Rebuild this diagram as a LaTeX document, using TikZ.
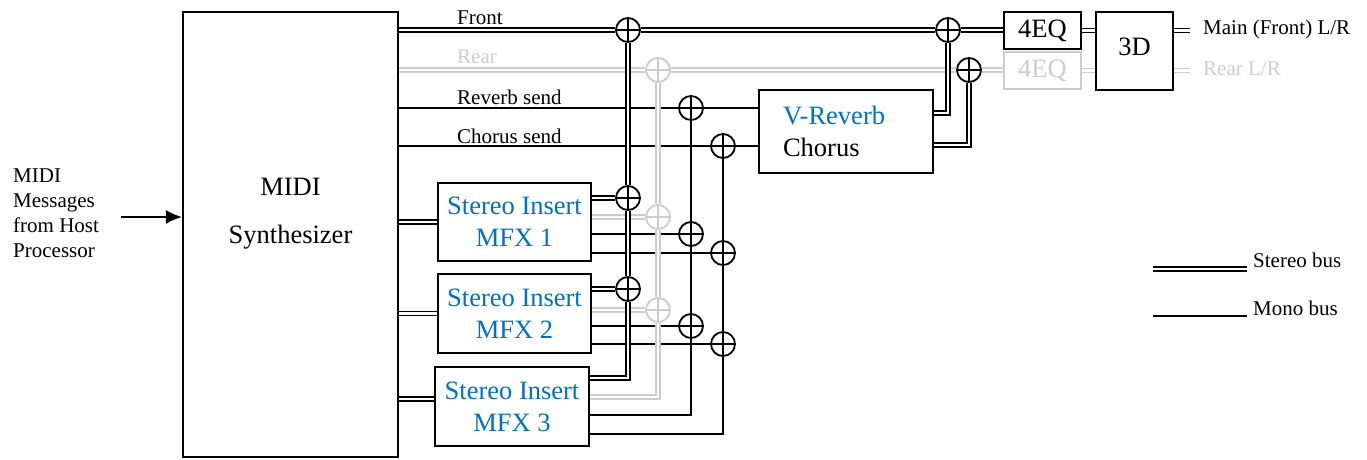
\documentclass[tikz,border=0pt]{standalone}
\usepackage{fontspec}
\setmainfont{Liberation Serif}
\usetikzlibrary{arrows.meta}
\definecolor{fxblue}{RGB}{0,112,192}
\definecolor{reargray}{RGB}{205,205,205}
\begin{document}
\begin{tikzpicture}[x=1pt,y=-1pt,
 blk/.style={draw,line width=2.2pt,inner sep=0pt,align=center,font=\fontsize{26.5}{32}\selectfont},
 sum/.style={draw,circle,line width=1.8pt,minimum size=24pt,inner sep=0pt,
  path picture={\draw[line width=1.8pt](path picture bounding box.north)--(path picture bounding box.south)(path picture bounding box.west)--(path picture bounding box.east);}},
 stereo/.style={double,line width=1.8pt,double distance=2.3pt},
 mono/.style={line width=1.6pt},
 lbl/.style={inner sep=0pt,font=\fontsize{21}{25}\selectfont}]
\useasboundingbox (0,0) rectangle (1367,459);
\node[blk,minimum width=215,minimum height=445] (synth) at (290.5,234.5) {};
\node[align=center,inner sep=0pt,font=\fontsize{26.5}{48}\selectfont] (synthtxt) at (290.5,214) {MIDI\\Synthesizer};
\node[lbl,align=left,anchor=west] (msg) at (13,213) {MIDI\\Messages\\from Host\\Processor};
\coordinate (midiin) at (121,217);
\draw[line width=1.8pt,-{Latex[length=16pt,width=14pt]}] (midiin)--(midiin-|synth.west);
\node[blk,text=fxblue,minimum width=153,minimum height=78] (mfx1) at (514.5,222) {Stereo Insert\\MFX 1};
\node[blk,text=fxblue,minimum width=153,minimum height=79] (mfx2) at (514.5,313.5) {Stereo Insert\\MFX 2};
\node[blk,text=fxblue,minimum width=154,minimum height=79] (mfx3) at (512,406.5) {Stereo Insert\\MFX 3};
\node[blk,minimum width=174,minimum height=83,text width=126,align=left] (verb) at (846,131.5) {\textcolor{fxblue}{V-Reverb}\\Chorus};
\node[blk,minimum width=77,minimum height=37] (eqf) at (1042.5,30.5) {4EQ};
\node[blk,draw=reargray,text=reargray,minimum width=77,minimum height=37] (eqr) at (1042.5,70.5) {4EQ};
\node[blk,minimum width=77,minimum height=78,text depth=8pt] (d3) at (1134.5,51) {3D};
\node[sum] (fs1) at (628,30) {};
\node[sum,color=reargray] (rs1) at (658,70) {};
\node[sum] (vs1) at (691,108) {};
\node[sum] (cs1) at (723,146) {};
\node[sum] (fs2) at (948,30) {};
\node[sum] (rs2) at (969,70) {};
\node[sum] (fm1) at (628,198) {};
\node[sum,color=reargray] (rm1) at (658,217) {};
\node[sum] (vm1) at (691,234) {};
\node[sum] (cm1) at (723,253) {};
\node[sum] (fm2) at (628,289) {};
\node[sum,color=reargray] (rm2) at (658,310) {};
\node[sum] (vm2) at (691,326) {};
\node[sum] (cm2) at (723,344) {};
\node[lbl,anchor=base west] (frontlbl) at (457,24) {Front};
\node[lbl,anchor=base west,text=reargray] (rearlbl) at (457,63) {Rear};
\node[lbl,anchor=base west] (verblbl) at (457,104) {Reverb send};
\node[lbl,anchor=base west] (choruslbl) at (457,143) {Chorus send};
\node[lbl,anchor=base west] (mainout) at (1203,34) {Main (Front) L/R};
\node[lbl,anchor=base west,text=reargray] (rearout) at (1203,75) {Rear L/R};
\draw[mono] (synth.east|-vs1)--(vs1)--(vs1-|verb.west);
\draw[mono] (synth.east|-cs1)--(cs1)--(cs1-|verb.west);
\draw[mono] (mfx1.east|-vm1)--(vm1);
\draw[mono] (mfx1.east|-cm1)--(cm1);
\draw[mono] (mfx2.east|-vm2)--(vm2);
\draw[mono] (mfx2.east|-cm2)--(cm2);
\draw[mono] (vs1)--(vm1)--(vm2)|-([yshift=-8.5]mfx3.east);
\draw[mono] (cs1)--(cm1)--(cm2)|-([yshift=-27.5]mfx3.east);
\draw[stereo,reargray] (synth.east|-rs1)--(rs1)--(rs2)--(rs2-|eqr.west);
\draw[stereo,reargray] (eqr.east)--(eqr.east-|d3.west);
\draw[stereo,reargray] (d3.east|-eqr)--([xshift=-13]rearout.west|-eqr);
\draw[stereo,reargray] (mfx1.east|-rm1)--(rm1);
\draw[stereo,reargray] (mfx2.east|-rm2)--(rm2);
\draw[stereo,reargray] (rs1)--(rm1)--(rm2)|-([yshift=9.5]mfx3.east);
\draw[stereo] (synth.east|-fs1)--(fs1)--(fs2)--(fs2-|eqf.west);
\draw[stereo] (eqf.east)--(eqf.east-|d3.west);
\draw[stereo] (d3.east|-eqf)--([xshift=-13]mainout.west|-eqf);
\draw[stereo] (synth.east|-mfx1)--(mfx1);
\draw[stereo] (synth.east|-mfx2)--(mfx2);
\draw[stereo] ([yshift=7.5]mfx3.west)--([yshift=7.5]mfx3.west-|synth.east);
\draw[stereo] (mfx1.east|-fm1)--(fm1);
\draw[stereo] (mfx2.east|-fm2)--(fm2);
\draw[stereo] (fs1)--(fm1)--(fm2)|-([yshift=28.5]mfx3.east);
\draw[stereo] ([yshift=18.5]verb.east)-|(fs2);
\draw[stereo] ([yshift=-13.5]verb.east)-|(rs2);
\draw[stereo] (1153,269)--(1247,269);
\node[lbl,anchor=base west] (stlgd) at (1253,267) {Stereo bus};
\draw[mono] (1153,316)--(1247,316);
\node[lbl,anchor=base west] (mnlgd) at (1253,315) {Mono bus};
\end{tikzpicture}
\end{document}
